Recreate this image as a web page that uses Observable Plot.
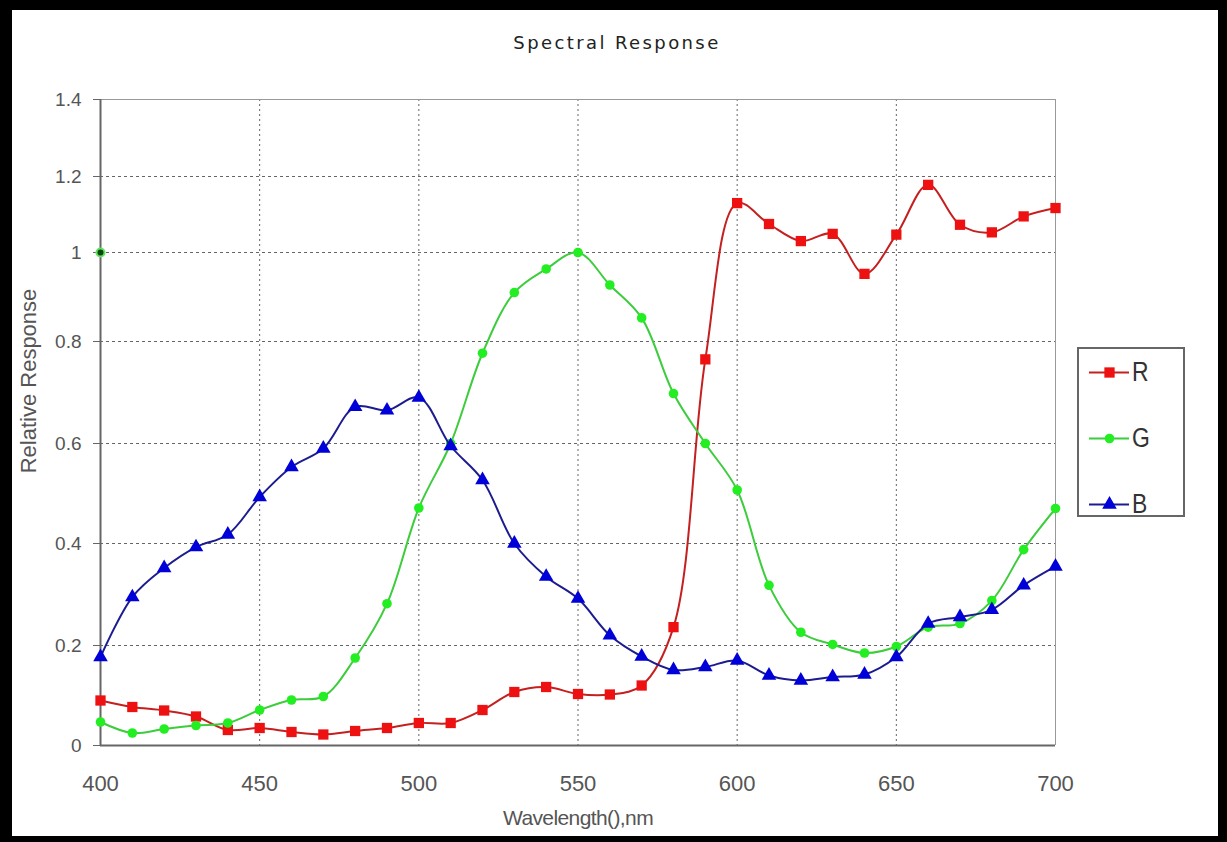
<!DOCTYPE html>
<html>
<head>
<meta charset="utf-8">
<script src="https://cdn.jsdelivr.net/npm/d3@7"></script>
<script src="https://cdn.jsdelivr.net/npm/@observablehq/plot@0.6"></script>
<style>
  html, body { margin: 0; padding: 0; background: #fff; }
  #wrap { position: relative; width: 1227px; height: 842px; overflow: hidden; background: #fff;
          font-family: "Liberation Sans", Arial, sans-serif; }
  #wrap svg.plot { position: absolute; left: 0; top: 0; }
  #title { position: absolute; left: 0; width: 1234px; top: 32px; text-align: center;
           font-family: "DejaVu Sans", sans-serif; font-size: 18px; letter-spacing: 2.4px; color: #222; }
  #ylabel { position: absolute; left: 29px; top: 381px; transform: translate(-50%, -50%) rotate(-90deg);
            font-size: 22px; color: #555; white-space: nowrap; }
  #xlabel { position: absolute; left: 578px; top: 806px; transform: translateX(-50%);
            font-size: 21px; color: #555; white-space: nowrap; letter-spacing: -0.6px; }
  #legend { position: absolute; left: 1077px; top: 347px; width: 104px; height: 166px;
            border: 2px solid #666; }
  .item { position: absolute; left: 10px; height: 30px; display: flex; align-items: center; }
  .item span { font-size: 27px; color: #333; margin-left: 3px; transform: scaleX(0.85); transform-origin: left; }
  #frame { position: absolute; inset: 0; border-style: solid; border-color: #000;
           border-width: 10px 9px 6px 12px; pointer-events: none; }
</style>
</head>
<body>
<div id="wrap">
  <div id="title">Spectral Response</div>
  <div id="ylabel">Relative Response</div>
  <div id="xlabel">Wavelength(),nm</div>
  <div id="legend"></div>
  <div id="frame"></div>
</div>
<script>
// ---- data ----
const wavelengths = [400,410,420,430,440,450,460,470,480,490,500,510,520,530,540,550,560,570,580,590,600,610,620,630,640,650,660,670,680,690,700];
const rValues = [0.09,0.077,0.07,0.058,0.031,0.035,0.027,0.022,0.029,0.035,0.045,0.045,0.071,0.107,0.117,0.103,0.102,0.12,0.236,0.765,1.13,1.075,1.03,1.049,0.952,1.047,1.178,1.073,1.053,1.095,1.117];
const gValues = [0.047,0.025,0.033,0.04,0.045,0.071,0.091,0.098,0.175,0.282,0.471,0.6,0.777,0.91,0.963,1.0,0.927,0.853,0.698,0.6,0.507,0.318,0.226,0.202,0.185,0.198,0.236,0.243,0.288,0.388,0.47];
const bValues = [0.177,0.295,0.352,0.393,0.418,0.493,0.553,0.59,0.672,0.665,0.69,0.595,0.527,0.40,0.335,0.292,0.22,0.178,0.151,0.157,0.17,0.14,0.13,0.137,0.142,0.177,0.243,0.256,0.27,0.318,0.355];
const strayPoint = [{w: 400, v: 1.0}];
const seriesNames = ["R", "G", "B"];
const xTicks = [400,450,500,550,600,650,700];
const yTicks = [0,0.2,0.4,0.6,0.8,1,1.2,1.4];

// ---- styles ----
const style = {
  R: {line: "#c42020", fill: "#ee1111", symbol: "square", r: 5.8},
  G: {line: "#3ccc3c", fill: "#22ee22", symbol: "circle", r: 4.8},
  B: {line: "#1c1c90", fill: "#0000d8", symbol: "triangle", r: 5.4}
};

const valuesBySeries = {R: rValues, G: gValues, B: bValues};
const rows = seriesNames.flatMap(s => wavelengths.map((w, i) => ({series: s, w, v: valuesBySeries[s][i]})));

const W = 1227, H = 842;
const marks = [
  Plot.gridX(xTicks.slice(1, -1), {stroke: "#555", strokeOpacity: 0.9, strokeDasharray: "2,3"}),
  Plot.gridY(yTicks.slice(1, -1), {stroke: "#555", strokeOpacity: 0.9, strokeDasharray: "3,3"}),
  Plot.ruleY([1.4], {stroke: "#999", strokeWidth: 1}),
  Plot.ruleX([700], {stroke: "#999", strokeWidth: 1}),
  Plot.ruleX([400], {stroke: "#666", strokeWidth: 2}),
  Plot.ruleY([0], {stroke: "#666", strokeWidth: 2}),
  Plot.axisX({ticks: xTicks, label: null, tickSize: 0, tickPadding: 30, fontSize: 22, tickFormat: d => String(d), color: "#555"}),
  Plot.axisY({ticks: yTicks, label: null, tickSize: 7, tickPadding: 12, fontSize: 19, tickFormat: d => String(d), color: "#555", stroke: "#666"}),
];
for (const s of seriesNames) {
  const data = rows.filter(d => d.series === s);
  marks.push(Plot.line(data, {x: "w", y: "v", stroke: style[s].line, strokeWidth: 2, curve: "catmull-rom"}));
  marks.push(Plot.dot(data, {x: "w", y: "v", symbol: () => style[s].symbol, fill: style[s].fill, stroke: "none", r: style[s].r}));
}
marks.push(Plot.dot(strayPoint, {x: "w", y: "v", fill: "#064a06", stroke: "#66e066", strokeWidth: 2, r: 4}));

const chart = Plot.plot({
  width: W, height: H,
  marginLeft: 100, marginRight: W - 1055, marginTop: 99, marginBottom: H - 745,
  style: {background: "transparent", fontFamily: "Liberation Sans, Arial, sans-serif"},
  x: {type: "linear", domain: [400, 700], axis: null, label: null},
  y: {type: "linear", domain: [0, 0.2, 0.4, 0.6, 0.8, 1.0, 1.2, 1.4], range: [745, 645, 543, 443, 341, 252, 176, 99], axis: null, label: null},
  symbol: {type: "identity"},
  marks
});
chart.classList.add("plot");
const wrap = document.getElementById("wrap");
wrap.insertBefore(chart, wrap.firstChild);

// ---- legend ----
const legend = document.getElementById("legend");
seriesNames.forEach((s, i) => {
  const item = document.createElement("div");
  item.className = "item";
  item.style.top = (8 + i * 66) + "px";
  const sw = Plot.plot({
    width: 40, height: 20, margin: 0,
    x: {domain: [0, 1], axis: null}, y: {domain: [0, 1], axis: null},
    symbol: {type: "identity"},
    style: {background: "transparent"},
    marks: [
      Plot.ruleY([0.5], {x1: 0, x2: 1, stroke: style[s].line, strokeWidth: 2}),
      Plot.dot([{x: 0.5, y: 0.5}], {x: "x", y: "y", symbol: () => style[s].symbol, fill: style[s].fill, r: style[s].r})
    ]
  });
  item.appendChild(sw);
  const lab = document.createElement("span");
  lab.textContent = s;
  item.appendChild(lab);
  legend.appendChild(item);
});
</script>
</body>
</html>
